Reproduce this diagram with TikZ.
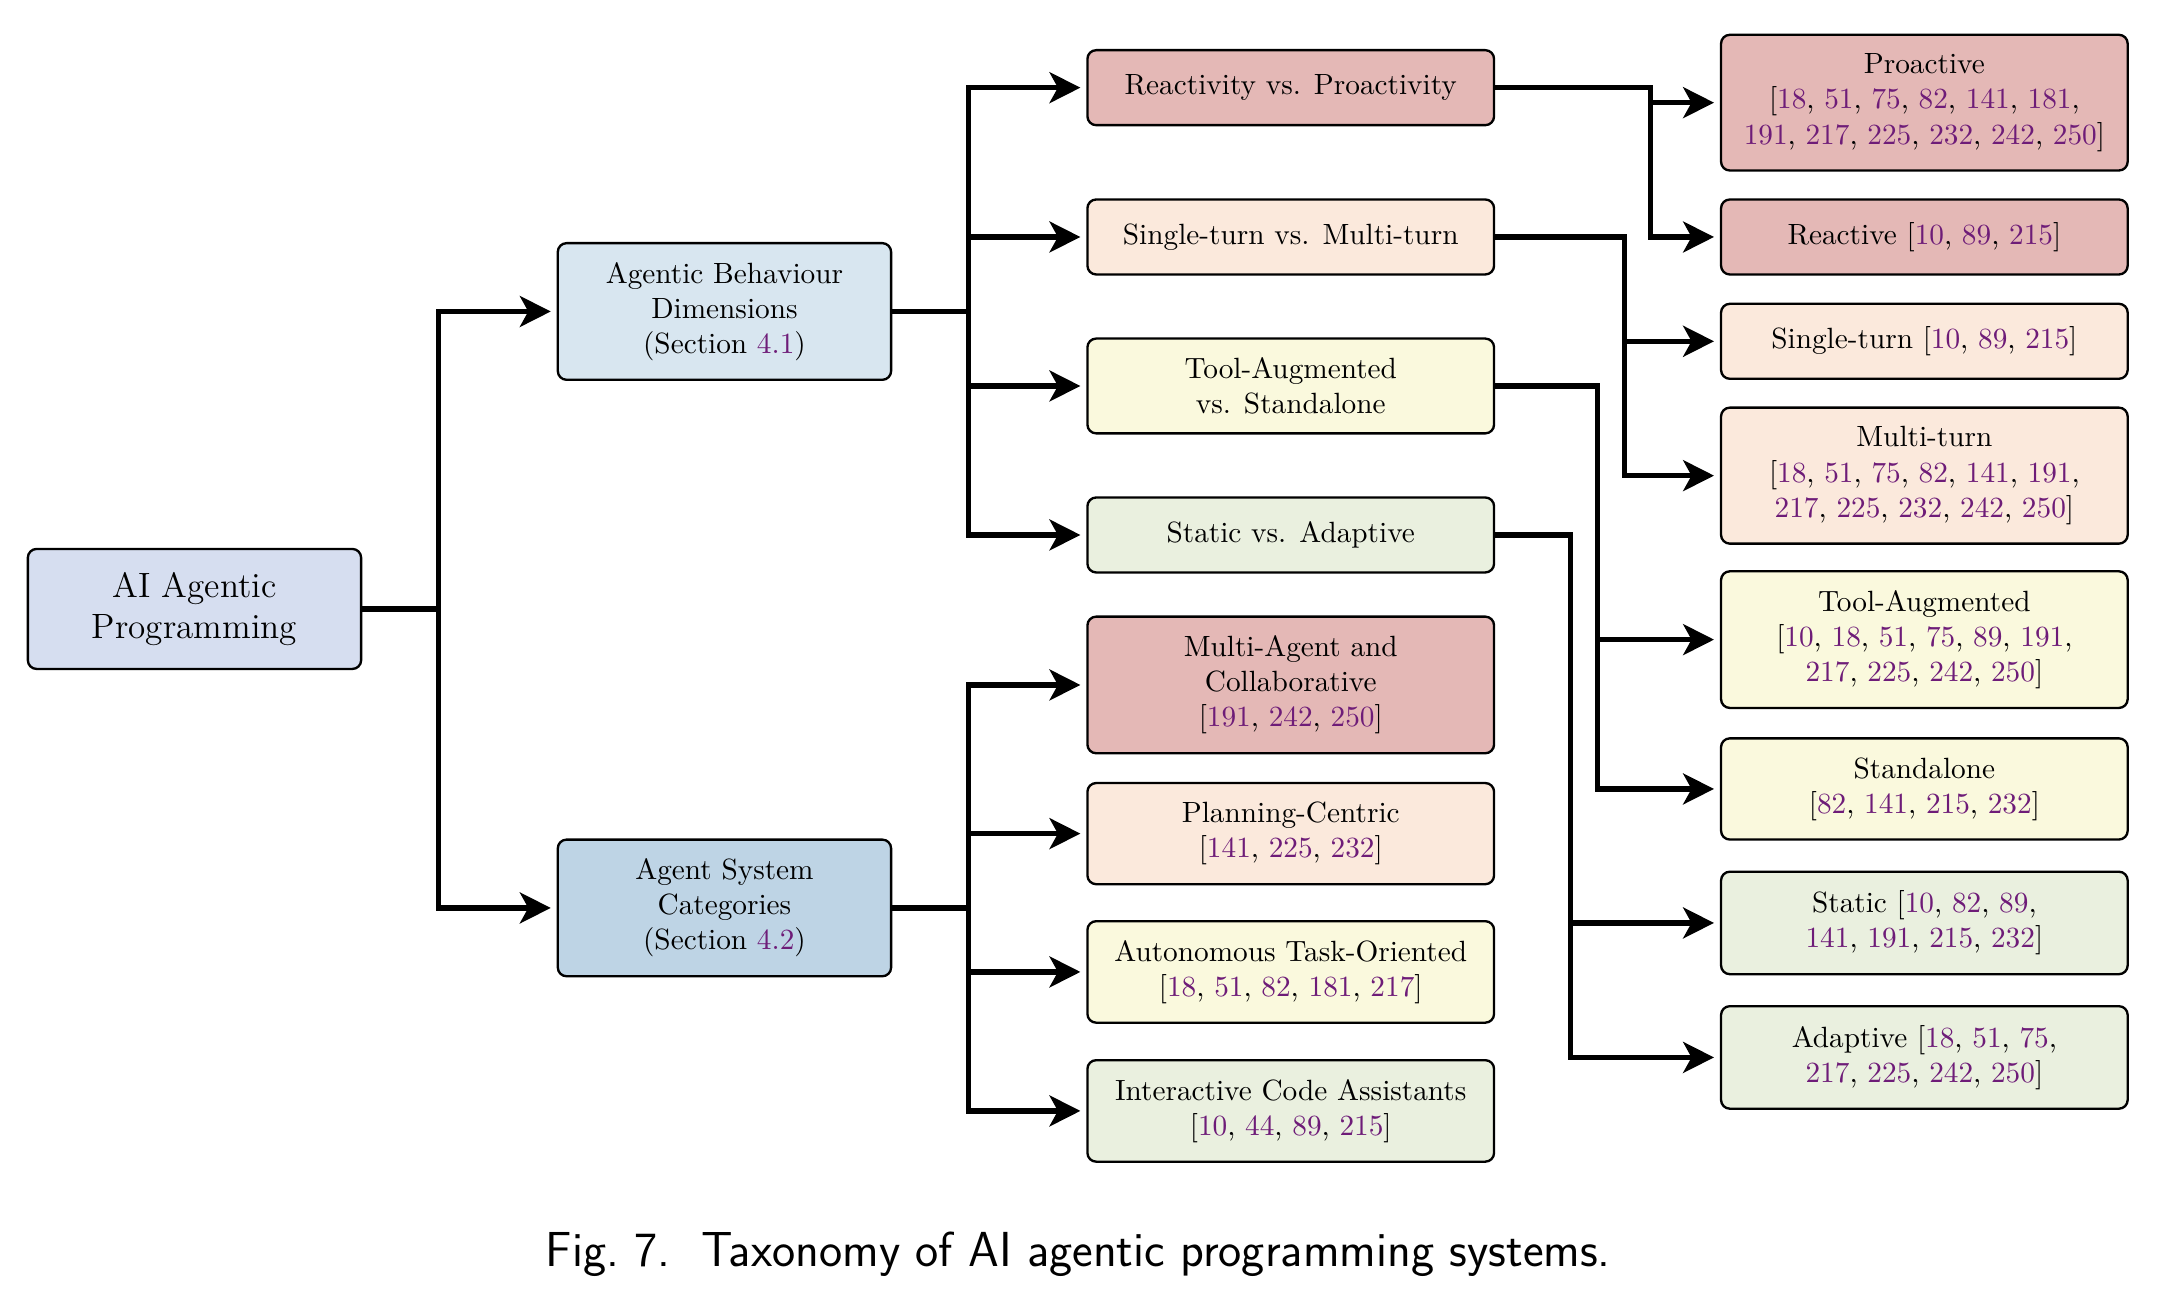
\documentclass[tikz,border=0pt]{standalone}
\usepackage{tikz}
\usetikzlibrary{arrows.meta}
\usepackage{xcolor}
\definecolor{rootclr}{RGB}{214,222,240}
\definecolor{behclr}{RGB}{216,230,240}
\definecolor{catclr}{RGB}{190,212,229}
\definecolor{redclr}{RGB}{228,184,182}
\definecolor{peachclr}{RGB}{251,233,220}
\definecolor{yellowclr}{RGB}{250,249,221}
\definecolor{greenclr}{RGB}{234,240,223}
\definecolor{citeclr}{RGB}{110,28,120}
\newcommand{\cn}[1]{\textcolor{citeclr}{#1}}

\begin{document}
\begin{tikzpicture}[
    box/.style={rectangle, draw=black, thick, rounded corners=3pt, minimum width=4.88cm, minimum height=0.9cm, inner xsep=4pt, inner ysep=6.5pt, align=center},
    arrow/.style={-{Stealth[length=3.7mm, width=3.7mm, inset=1mm]}, line width=1.8pt, shorten >=2pt}
]
    \useasboundingbox (0,0) rectangle (26.21,-15.62);

    \node[box, minimum width=4cm, minimum height=1.44cm, fill=rootclr, font=\large] (root) at (2.334,-7.308) {AI Agentic\\Programming};

    \node[box, minimum width=4cm, fill=behclr] (behav) at (8.694,-3.738) {Agentic Behaviour\\Dimensions\\(Section \cn{4.1})};
    \node[box, minimum width=4cm, fill=catclr] (cats) at (8.694,-10.896) {Agent System\\Categories\\(Section \cn{4.2})};

    \node[box, fill=redclr] (react) at (15.49,-1.052) {Reactivity vs. Proactivity};
    \node[box, fill=peachclr] (turns) at (15.49,-2.844) {Single-turn vs. Multi-turn};
    \node[box, fill=yellowclr] (tools) at (15.49,-4.632) {Tool-Augmented\\vs. Standalone};
    \node[box, fill=greenclr] (adapt) at (15.49,-6.42) {Static vs. Adaptive};

    \node[box, fill=redclr] (multiagent) at (15.49,-8.22) {Multi-Agent and\\Collaborative\\{}[\cn{191}, \cn{242}, \cn{250}]};
    \node[box, fill=peachclr] (planning) at (15.49,-10.004) {Planning-Centric\\{}[\cn{141}, \cn{225}, \cn{232}]};
    \node[box, fill=yellowclr] (autonomous) at (15.49,-11.664) {Autonomous Task-Oriented\\{}[\cn{18}, \cn{51}, \cn{82}, \cn{181}, \cn{217}]};
    \node[box, fill=greenclr] (interactive) at (15.49,-13.332) {Interactive Code Assistants\\{}[\cn{10}, \cn{44}, \cn{89}, \cn{215}]};

    \node[box, fill=redclr] (proact) at (23.094,-1.232) {Proactive\\{}[\cn{18}, \cn{51}, \cn{75}, \cn{82}, \cn{141}, \cn{181},\\\cn{191}, \cn{217}, \cn{225}, \cn{232}, \cn{242}, \cn{250}]};
    \node[box, fill=redclr] (reactive) at (23.094,-2.844) {Reactive [\cn{10}, \cn{89}, \cn{215}]};
    \node[box, fill=peachclr] (single) at (23.094,-4.096) {Single-turn [\cn{10}, \cn{89}, \cn{215}]};
    \node[box, fill=peachclr] (multi) at (23.094,-5.708) {Multi-turn\\{}[\cn{18}, \cn{51}, \cn{75}, \cn{82}, \cn{141}, \cn{191},\\\cn{217}, \cn{225}, \cn{232}, \cn{242}, \cn{250}]};
    \node[box, fill=yellowclr] (toolaug) at (23.094,-7.676) {Tool-Augmented\\{}[\cn{10}, \cn{18}, \cn{51}, \cn{75}, \cn{89}, \cn{191},\\\cn{217}, \cn{225}, \cn{242}, \cn{250}]};
    \node[box, fill=yellowclr] (standalone) at (23.094,-9.468) {Standalone\\{}[\cn{82}, \cn{141}, \cn{215}, \cn{232}]};
    \node[box, fill=greenclr] (static) at (23.094,-11.076) {Static [\cn{10}, \cn{82}, \cn{89},\\\cn{141}, \cn{191}, \cn{215}, \cn{232}]};
    \node[box, fill=greenclr] (adaptive) at (23.094,-12.69) {Adaptive [\cn{18}, \cn{51}, \cn{75},\\\cn{217}, \cn{225}, \cn{242}, \cn{250}]};

    \draw[arrow] (root.east) -- ++(0.912,0) |- (behav);
    \draw[arrow] (root.east) -- ++(0.912,0) |- (cats);

    \draw[arrow] (behav.east) -- ++(0.912,0) |- (react);
    \draw[arrow] (behav.east) -- ++(0.912,0) |- (turns);
    \draw[arrow] (behav.east) -- ++(0.912,0) |- (tools);
    \draw[arrow] (behav.east) -- ++(0.912,0) |- (adapt);

    \draw[arrow] (cats.east) -- ++(0.912,0) |- (multiagent);
    \draw[arrow] (cats.east) -- ++(0.912,0) |- (planning);
    \draw[arrow] (cats.east) -- ++(0.912,0) |- (autonomous);
    \draw[arrow] (cats.east) -- ++(0.912,0) |- (interactive);

    \draw[arrow] (react.east) -- ++(1.86,0) |- (proact);
    \draw[arrow] (react.east) -- ++(1.86,0) |- (reactive);
    \draw[arrow] (turns.east) -- ++(1.548,0) |- (single);
    \draw[arrow] (turns.east) -- ++(1.548,0) |- (multi);
    \draw[arrow] (tools.east) -- ++(1.224,0) |- (toolaug);
    \draw[arrow] (tools.east) -- ++(1.224,0) |- (standalone);
    \draw[arrow] (adapt.east) -- ++(0.9,0) |- (static);
    \draw[arrow] (adapt.east) -- ++(0.9,0) |- (adaptive);

    \node[anchor=base, font=\sffamily\fontsize{16.8}{20}\selectfont] (caption) at (12.94,-15.2) {Fig.~7.\ \ Taxonomy of AI agentic programming systems.};
\end{tikzpicture}
\end{document}
